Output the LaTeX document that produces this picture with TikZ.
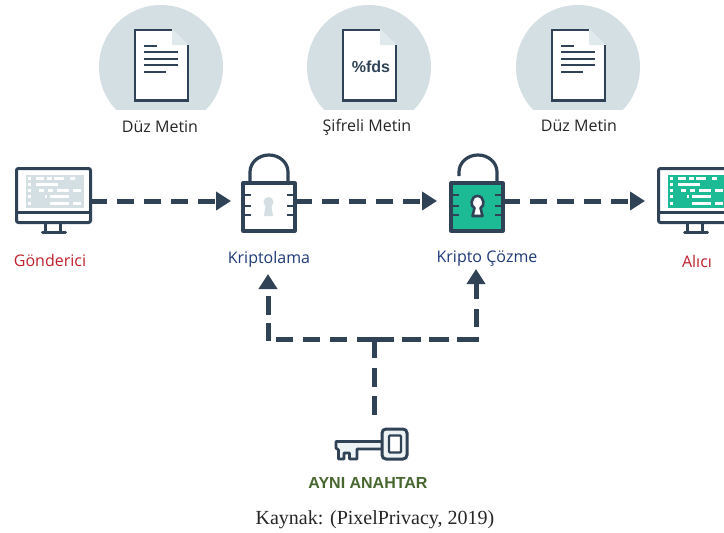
\documentclass[tikz,border=0pt]{standalone}
\usepackage{fontspec}
\setmainfont{Liberation Serif}
\newfontfamily\uifont{Open Sans}
\newfontfamily\heavyfont{Liberation Sans}
\usetikzlibrary{arrows.meta}
\definecolor{ink}{HTML}{2F4256}
\definecolor{pale}{HTML}{D3DFE3}
\definecolor{mint}{HTML}{1DBB95}
\definecolor{redtxt}{HTML}{C0202C}
\definecolor{bluetxt}{HTML}{1F3A78}
\definecolor{greentxt}{HTML}{47672F}
\tikzset{
  arrowed/.style={-{Triangle[length=15pt,width=18pt]}},
  flow/.style={draw=ink,line width=5pt,dash pattern=on 17pt off 10pt,arrowed},
  linkline/.style={draw=ink,line width=5pt},
  outline/.style={draw=ink,line width=3.2pt,line join=round},
  lbl/.style={font=\uifont\fontsize{16}{19}\selectfont,inner sep=0pt,text=#1},
  lbl/.default=black!85
}
\newcommand{\papersheet}[2]{%
  \begin{scope}[shift={(#1,#2)}]
    \fill[white] (-27,-37) -- (11,-37) -- (27,-21) -- (27,35) -- (-27,35) -- cycle;
    \fill[pale!70!white] (11,-37) -- (27,-21) -- (11,-21) -- cycle;
    \draw[ink,line width=2.6pt,line cap=butt] (11,-36) -- (-26,-36) -- (-26,34.5) -- (27,34.5) -- (27,-21);
  \end{scope}}
\newcommand{\disc}[2]{%
  \begin{scope}
    \clip (#1-70,0) rectangle (#1+70,109.5);
    \fill[pale] (#1,67) circle (62);
  \end{scope}}
\newcommand{\monitor}[3]{%
  \begin{scope}[shift={(#1,#2)}]
    \draw[ink,line width=3pt,rounded corners=2pt,fill=white] (0,0) rectangle (74,54);
    \draw[ink,line width=3pt] (0,44) -- (74,44);
    \fill[#3] (9,6) rectangle (67,39);
    \draw[ink,line width=3pt] (29,55) -- (29,63) (44,55) -- (44,63);
    \draw[ink,line width=3pt,line cap=round] (26,63.5) -- (49,63.5);
    \foreach \yy/\segs in {10/{11/14,19/27,30/35,37/47,53/58},16/{11/14,19/41},22/{11/14,22/27,31/36,40/52,56/64},28/{11/14,28/30,33/52},35/{11/14,33/52,56/64}}{
      \foreach \a/\b in \segs {\fill[white] (\a,\yy-1.2) rectangle (\b,\yy+1.2);}}
  \end{scope}}
\newcommand{\padlock}[4]{%
  \begin{scope}[shift={(#1,#2)}]
    \draw[outline,fill=#3] (0,0) rectangle (52,48);
    \foreach \yy in {12,23,32}{
      \draw[ink,line width=2.8pt] (-1,\yy) -- (8,\yy) (44,\yy) -- (53,\yy);}
  \end{scope}}
\begin{document}
\begin{tikzpicture}[x=1pt,y=-1pt]
  \useasboundingbox (0,0) rectangle (724,533);
  \fill[white] (0,0) rectangle (724,533);

  % discs and sheets
  \disc{161}{0}\disc{369}{0}\disc{578}{0}
  \papersheet{161}{66}
  \papersheet{369}{66}
  \papersheet{578}{66}
  \foreach \cx in {161,578}{
    \begin{scope}[shift={(\cx,0)}]
      \foreach \yy/\a/\b in {46/-17/-4,52/-17/17,59/-17/17,65/-17/17,72/-17/5}{
        \draw[ink,line width=2.4pt] (\a,\yy) -- (\b,\yy);}
    \end{scope}}
  \node[inner sep=0pt,text=ink] (cipher) at (371,66.5) {\heavyfont\bfseries\fontsize{16}{18}\selectfont\%fds};

  % labels
  \node[lbl] (t1) at (160,127) {Düz Metin};
  \node[lbl] (t2) at (367,127) {Şifreli Metin};
  \node[lbl] (t3) at (579,126) {Düz Metin};
  \node[lbl=redtxt] (sender) at (50,260) {Gönderici};
  \node[lbl=bluetxt] (enc) at (269,259.5) {Kriptolama};
  \node[lbl=bluetxt] (dec) at (487,259) {Kripto Çözme};
  \node[lbl=redtxt] (recv) at (697,261) {Alıcı};
  \node[inner sep=0pt,text=greentxt] (same) at (368,483) {\heavyfont\bfseries\fontsize{16}{19}\selectfont AYNI ANAHTAR};
  \node[inner sep=0pt,text=black!85] (src) at (375,520) {\fontsize{20}{24}\selectfont Kaynak: (PixelPrivacy, 2019)};

  % devices
  \monitor{16.5}{168.5}{pale}
  \monitor{658.5}{168.5}{mint}

  % padlocks
  \draw[outline] (250,184) -- (250,172) arc[start angle=180,end angle=0,x radius=19,y radius=-17] -- (288,184);
  \padlock{243}{183}{white}{pale}
  \fill[pale] (268.5,202) circle (5);
  \fill[pale] (266,203) -- (271,203) -- (273,216) -- (264,216) -- cycle;
  \draw[outline] (459,176) -- (459,172) arc[start angle=180,end angle=0,x radius=19,y radius=-17] -- (497,184);
  \padlock{451}{183}{mint}{white}
  \draw[ink,line width=2.6pt,line join=round,fill=white]
     (474.5,208) .. controls (470,207) and (470.5,196) .. (477.5,196)
     .. controls (484.5,196) and (485,207) .. (480.5,208)
     -- (482.5,216) -- (472.5,216) -- cycle;

  % key
  \draw[ink,line width=2.8pt,line join=round,fill=pale!40!white]
     (382,441.5) -- (336,441.5) -- (336,448) -- (338.5,450) -- (338.5,459) -- (344,459) -- (344,453)
     -- (349.5,453) -- (349.5,459) -- (357,459) -- (357,449) -- (382,449);
  \draw[ink,line width=3pt,rounded corners=4pt,fill=pale!40!white] (382,429) rectangle (407,459);
  \draw[ink,line width=2.4pt,rounded corners=1pt,fill=white] (389,435.5) rectangle (401,452.5);

  % connector ends
  \coordinate (monAport) at (90,201);
  \coordinate (lockAin) at (231,201);
  \coordinate (lockAout) at (295,201);
  \coordinate (lockBin) at (437,201);
  \coordinate (lockBout) at (503,201);
  \coordinate (monBport) at (645,201);
  \coordinate (upA) at (268,274);
  \coordinate (upB) at (476,269);
  \coordinate (cornerA) at (268,341);
  \coordinate (cornerB) at (476,327);
  \coordinate (endL) at (276,339);
  \coordinate (endR) at (479,339);
  \coordinate (tee) at (374,339);
  \coordinate (keytop) at (374,415);

  % connectors
  \draw[flow] (monAport) -- (lockAin);
  \draw[flow] (lockAout) -- (lockBin);
  \draw[flow] (lockBout) -- (monBport);
  \draw[linkline,dash pattern=on 19pt off 9.5pt] (tee) -- (keytop);
  \draw[linkline,dash pattern=on 17pt off 10pt] (tee) -- (endL);
  \draw[linkline,dash pattern=on 19.5pt off 8pt on 19.5pt off 8pt on 19.5pt off 8pt on 23pt off 8pt] (tee) -- (endR);
  \draw[flow,dash pattern=on 18.5pt off 8pt] (cornerA) -- (upA);
  \draw[flow,dash pattern=on 18pt off 10pt] (cornerB) -- (upB);
\end{tikzpicture}
\end{document}
